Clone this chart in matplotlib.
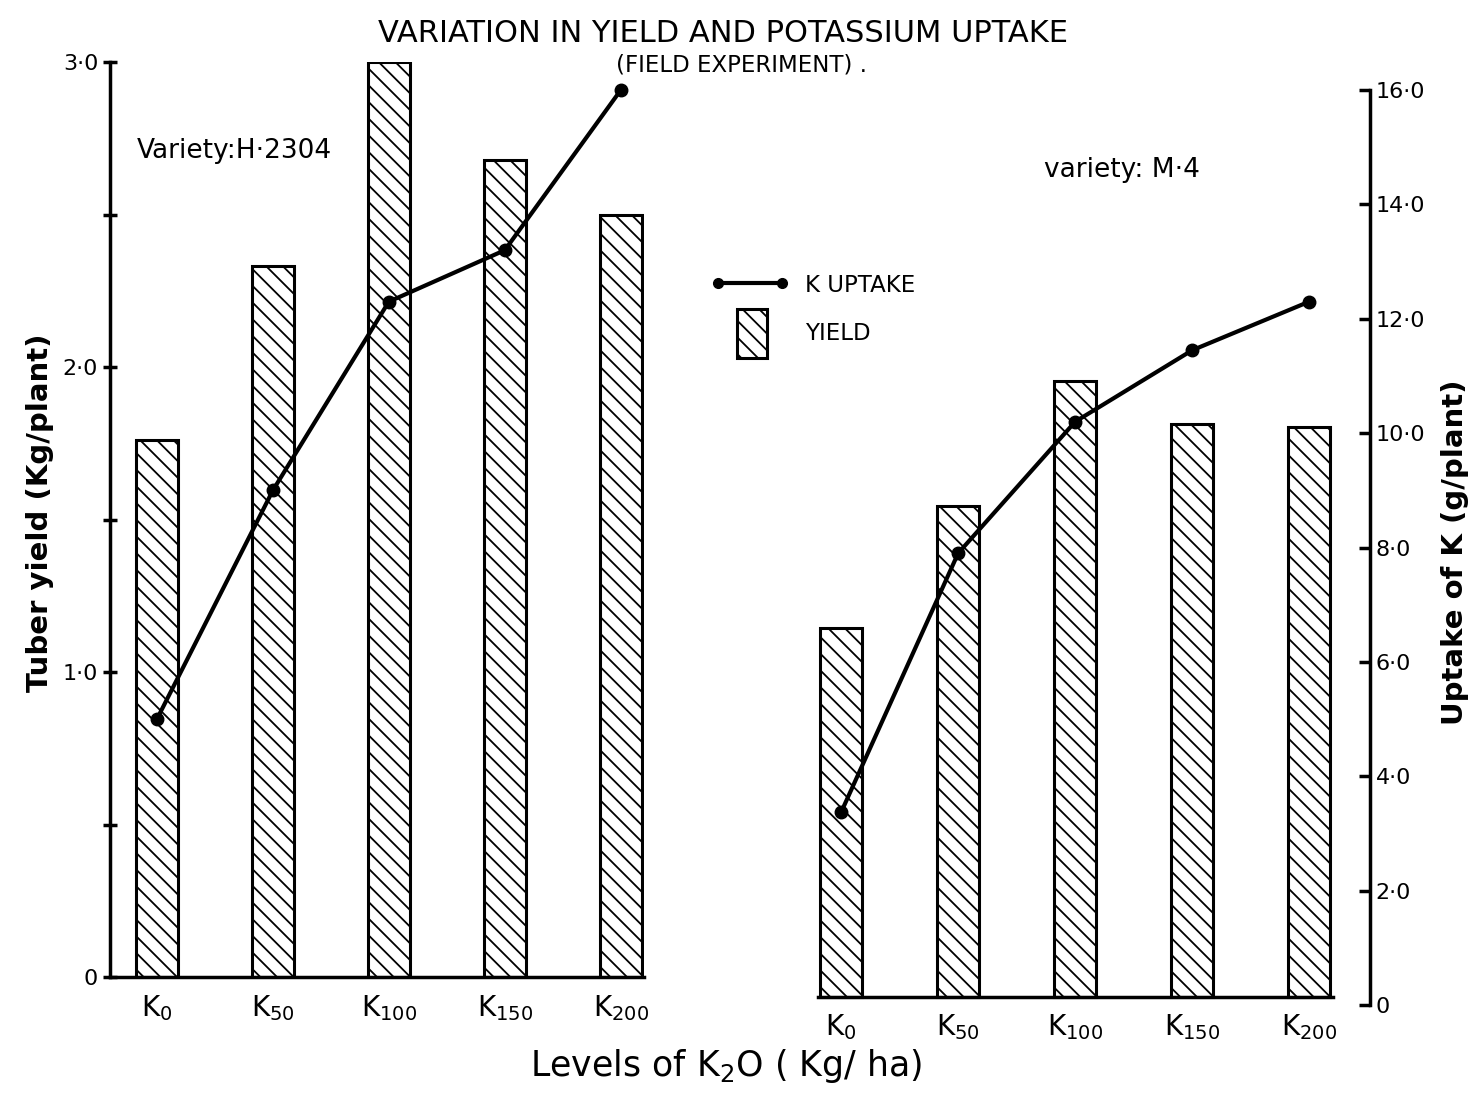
import matplotlib.pyplot as plt
from matplotlib.lines import Line2D
from matplotlib.patches import Patch, Rectangle
from matplotlib.legend_handler import HandlerPatch

plt.rcParams['hatch.linewidth'] = 1.3

# datos
levels = ['K$_{0}$', 'K$_{50}$', 'K$_{100}$', 'K$_{150}$', 'K$_{200}$']
yield_h2304 = [1.76, 2.33, 3.0, 2.68, 2.50]      # kg/planta
uptake_h2304 = [5.0, 9.0, 12.3, 13.2, 16.0]      # g/planta
yield_m4 = [1.21, 1.61, 2.02, 1.88, 1.87]
uptake_m4 = [3.37, 7.9, 10.2, 11.45, 12.3]
yield_ticks = [0, 1, 2, 3]
yield_labels = ['0', '1·0', '2·0', '3·0']
uptake_ticks = [0, 2, 4, 6, 8, 10, 12, 14, 16]
uptake_labels = ['0', '2·0', '4·0', '6·0', '8·0', '10·0', '12·0', '14·0', '16·0']

x = range(len(levels))
bw = 0.36
lw = 2.2

fig = plt.figure(figsize=(14.82, 10.97), dpi=100)

# ---- panel izquierdo (H-2304)
ax1 = fig.add_axes([0.0742, 0.1094, 0.3603, 0.834])
ax1.bar(x, yield_h2304, width=bw, color='white', edgecolor='black', hatch='\\\\', linewidth=lw)
ax1.set_xlim(-0.405, 4.2)
ax1.set_ylim(0, 3)
ax1.spines['top'].set_visible(False)
ax1.spines['right'].set_visible(False)
for s in ['left', 'bottom']:
    ax1.spines[s].set_linewidth(2.5)
ax1.set_yticks(yield_ticks)
ax1.set_yticklabels(yield_labels, fontsize=16)
ax1.set_yticks([0.5, 1.5, 2.5], minor=True)
ax1.tick_params(axis='y', which='both', direction='inout', length=10, width=2.5)
ax1.set_xticks(list(x))
ax1.set_xticklabels(levels, fontsize=20)
ax1.tick_params(axis='x', length=0, pad=12)

ax1b = ax1.twinx()
ax1b.plot(x, uptake_h2304, color='black', lw=3, marker='o', ms=9)
ax1b.set_ylim(0.49, 16.49)
ax1b.axis('off')

ax1.text(0.05, 0.895, 'Variety:H·2304', transform=ax1.transAxes, fontsize=19,
         family='Liberation Sans Narrow')

# ---- panel derecho (M-4): barras en escala de rendimiento
ax2 = fig.add_axes([0.552, 0.0839, 0.3725, 0.834])
ax2.bar(x, yield_m4, width=bw, color='white', edgecolor='black', hatch='\\\\', linewidth=lw)
ax2.set_xlim(-0.197, 4.52)
ax2.set_ylim(-0.026, 2.974)
for s in ['top', 'left', 'right']:
    ax2.spines[s].set_visible(False)
ax2.spines['bottom'].set_position(('data', 0))
ax2.spines['bottom'].set_bounds(-0.197, 4.2)
ax2.spines['bottom'].set_linewidth(2.5)
ax2.set_yticks([])
ax2.set_xticks(list(x))
ax2.set_xticklabels(levels, fontsize=20)
ax2.tick_params(axis='x', length=0, pad=11)

# eje derecho de absorcion de K
ax2u = ax2.twinx()
ax2u.plot(x, uptake_m4, color='black', lw=3, marker='o', ms=9)
ax2u.set_ylim(0, 16)
for s in ['top', 'left', 'bottom']:
    ax2u.spines[s].set_visible(False)
ax2u.spines['right'].set_linewidth(2.5)
ax2u.set_yticks(uptake_ticks)
ax2u.set_yticklabels(uptake_labels, fontsize=16)
ax2u.tick_params(axis='y', direction='in', length=8, width=2.5, pad=4)

ax2.text(0.41, 0.905, 'variety: M·4', transform=ax2u.transAxes, fontsize=19,
         family='Liberation Sans Narrow')

# ---- textos
fig.text(0.488, 0.962, 'VARIATION IN YIELD AND POTASSIUM UPTAKE', ha='center', fontsize=22,
         family='Liberation Sans Narrow')
fig.text(0.5, 0.935, '(FIELD EXPERIMENT) .', ha='center', fontsize=16.5)
fig.text(0.49, 0.028, 'Levels of K$_{\\mathregular{2}}$O ( Kg/ ha)', ha='center', va='center',
         fontsize=25)
fig.text(0.027, 0.533, 'Tuber yield (Kg/plant)', rotation=90, ha='center', va='center',
         fontsize=21, fontweight='bold')
fig.text(0.982, 0.497, 'Uptake of K (g/plant)', rotation=90, ha='center', va='center',
         fontsize=21, fontweight='bold')


# ---- leyenda
def narrow_box(legend, orig_handle, xdescent, ydescent, width, height, fontsize):
    return Rectangle((-xdescent + width * 0.33, -ydescent - height * 0.6), width * 0.38, height * 2.1)


handles = [Line2D([0], [0], color='black', lw=3, marker='o', ms=7),
           Patch(facecolor='white', edgecolor='black', hatch='\\\\', linewidth=2.2)]
fig.legend(handles, ['K UPTAKE', 'YIELD'], loc='upper left', bbox_to_anchor=(0.466, 0.77),
           frameon=False, fontsize=16.5, handlelength=3.4, handleheight=1.2, labelspacing=1.0,
           handletextpad=0.7, numpoints=2, handler_map={Patch: HandlerPatch(patch_func=narrow_box)})

plt.savefig('out.png', dpi=100)
